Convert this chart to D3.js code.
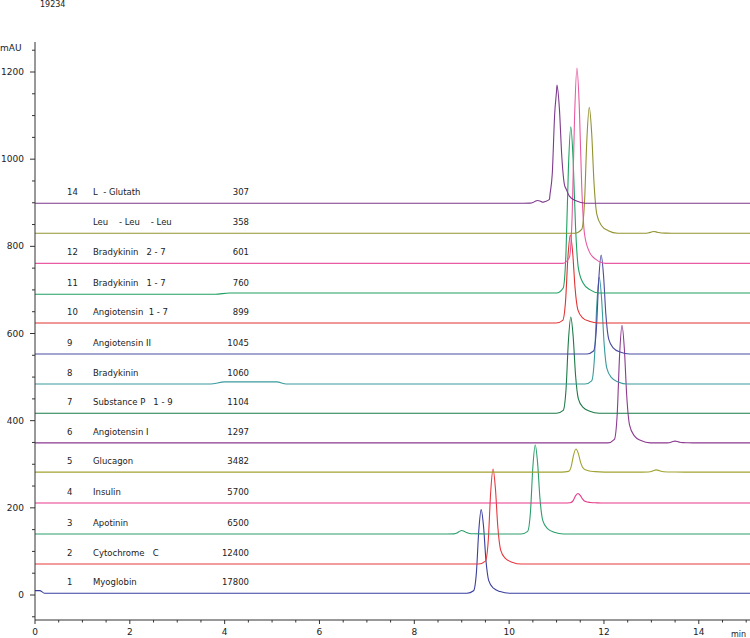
<!DOCTYPE html>
<html><head><meta charset="utf-8">
<script src="https://cdn.jsdelivr.net/npm/d3@7"></script>
<style>body{margin:0;background:#fff}text{font-family:"DejaVu Sans",sans-serif;fill:#222}</style>
</head><body>
<svg id="chart" width="750" height="638"></svg>
<script>
// sample list: number, name, value label
const numbers = ["1","2","3","4","5","6","7","8","9","10","11","12","","14"];
const names = ["Myoglobin","Cytochrome   C","Apotinin","Insulin","Glucagon","Angiotensin I","Substance P   1 - 9","Bradykinin","Angiotensin II","Angiotensin  1 - 7","Bradykinin   1 - 7","Bradykinin   2 - 7","Leu    - Leu    - Leu","L  - Glutath"];
const amounts = ["17800","12400","6500","5700","3482","1297","1104","1060","1045","899","760","601","358","307"];
const colors = ["#3a3f9e","#e8383d","#2c9e6c","#e8388a","#a2a232","#8c3a90","#1d7a48","#3a9a9c","#4a4aa2","#e23232","#1fa062","#e85aa2","#929232","#7c3a8c"];
// baseline level (mAU) of each trace
const baselines = [4, 71, 140, 211, 282, 349, 417, 484, 553, 624, 690, 761, 830, 899];
// peaks per trace: [retention time (min), height above baseline (mAU)]
const peaks = [
  [[9.41, 192]],
  [[9.66, 218]],
  [[10.55, 204], [9.0, 8]],
  [[11.45, 22]],
  [[11.41, 53], [13.1, 5]],
  [[12.38, 270], [13.5, 4]],
  [[11.3, 221]],
  [[11.9, 245]],
  [[11.94, 227]],
  [[11.29, 202]],
  [[11.3, 381]],
  [[11.43, 448]],
  [[11.69, 289], [13.05, 4]],
  [[11.01, 271], [10.6, 6]]
];
// small baseline shifts: [trace, start, end, shift]
const shifts = [[7, 3.7, 5.3, 5], [10, 3.8, 15.1, 3]];
// typical peak profile: [time offset, fraction of height]
const peakShape = [[-0.3,0],[-0.16,0.03],[-0.1,0.25],[-0.05,0.75],[0,1],[0.05,0.8],[0.1,0.4],[0.16,0.15],[0.26,0.06],[0.4,0.02],[0.6,0]];
const xTicks = [0, 2, 4, 6, 8, 10, 12, 14];
const yTicks = [0, 200, 400, 600, 800, 1000, 1200];

const svg = d3.select("#chart");
const x = d3.scaleLinear().domain([0, 15.08]).range([35, 750]);
const y = d3.scaleLinear().domain([0, 1200]).range([595, 72]);

// peak profile lookup (piecewise between the read-off points)
const shape = d3.scaleLinear().domain(peakShape.map(d => d[0])).range(peakShape.map(d => d[1])).clamp(true);

// build trace points: baseline + every peak's profile at each key time
const traces = baselines.map((b, i) => {
  let times = [0, 15.08];
  peaks[i].forEach(([t]) => peakShape.forEach(([dt]) => times.push(t + dt)));
  const myShifts = shifts.filter(s => s[0] === i);
  myShifts.forEach(([, s0, s1]) => times.push(s0, s0 + 0.3, Math.min(s1 - 0.2, 15.08), Math.min(s1, 15.08)));
  if (i === 0) times.push(0.1, 0.2);
  times = Array.from(new Set(times)).sort((a, c) => a - c);
  return times.map(t => {
    let v = b;
    peaks[i].forEach(([pt, h]) => { v += h * shape(t - pt); });
    myShifts.forEach(([, s0, s1, d]) => {
      if (t > s0 && t < s1) v += d * Math.min(1, (t - s0) / 0.3, (s1 - t) / 0.2 > 0 && s1 < 15 ? (s1 - t) / 0.2 : 1);
    });
    if (i === 0 && t < 0.15) v = 10;
    return [t, v];
  });
});

const lineGen = d3.line().x(d => x(d[0])).y(d => y(d[1])).curve(d3.curveMonotoneX);

svg.append("g").selectAll("path").data(traces).join("path")
  .attr("d", lineGen).attr("fill", "none")
  .attr("stroke", (d, i) => colors[i]).attr("stroke-width", 1.1);

// axes
const yAxis = svg.append("g").attr("transform", "translate(35,0)");
yAxis.append("line").attr("y1", 42).attr("y2", 620).attr("stroke", "#333");
d3.range(-50, 1300, 50).forEach(v => {
  if (y(v) < 42) return;
  const major = v % 200 === 0 && v >= 0;
  yAxis.append("line").attr("x1", major ? -5 : -3).attr("x2", 0)
    .attr("y1", y(v)).attr("y2", y(v)).attr("stroke", "#333");
});
yAxis.selectAll("text").data(yTicks).join("text")
  .attr("x", -11).attr("y", d => y(d) + 3).attr("text-anchor", "end")
  .attr("font-size", 9).text(d => d);

const xAxis = svg.append("g").attr("transform", "translate(0,620)");
xAxis.append("line").attr("x1", 35).attr("x2", 750).attr("stroke", "#333");
d3.range(0, 15.01, 0.5).forEach(v => {
  xAxis.append("line").attr("x1", x(v)).attr("x2", x(v))
    .attr("y1", 0).attr("y2", v % 2 === 0 ? 4 : 2.5).attr("stroke", "#333");
});
xAxis.selectAll("text").data(xTicks).join("text")
  .attr("x", d => x(d)).attr("y", 15).attr("text-anchor", "middle")
  .attr("font-size", 9).text(d => d);

svg.append("text").attr("x", 0).attr("y", 51).attr("font-size", 9).text("mAU");
svg.append("text").attr("x", 731).attr("y", 637).attr("font-size", 8).text("min");
svg.append("text").attr("x", 40).attr("y", 7).attr("font-size", 8).text("19234");

// labels
const lab = svg.append("g").selectAll("g").data(baselines).join("g")
  .attr("transform", d => `translate(0,${y(d) - 8})`);
lab.append("text").attr("x", 67).attr("font-size", 8.5).text((d, i) => numbers[i]);
lab.append("text").attr("x", 93).attr("font-size", 8.5)
  .style("white-space", "pre").text((d, i) => names[i]);
lab.append("text").attr("x", 249).attr("text-anchor", "end").attr("font-size", 8.5).text((d, i) => amounts[i]);
</script>
</body></html>
